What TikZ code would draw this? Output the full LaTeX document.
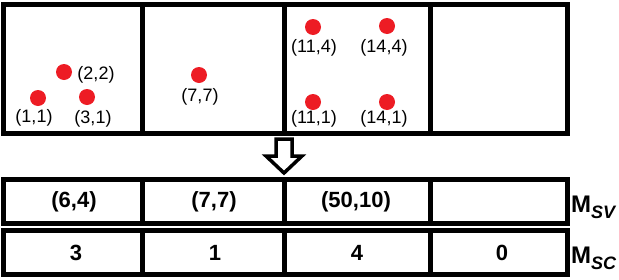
\documentclass[tikz,border=0pt]{standalone}
\usepackage{fontspec}
\setmainfont{Liberation Sans}
\definecolor{dotred}{HTML}{ED1C24}
\begin{document}
\begin{tikzpicture}[x=1pt,y=-1pt,
  frame/.style={line width=5pt,draw=black},
  pt/.style={circle,fill=dotred,minimum size=16pt,inner sep=0pt},
  lbl/.style={font=\fontsize{18}{18}\selectfont,inner sep=0pt},
  val/.style={font=\fontsize{22}{22}\selectfont\bfseries,inner sep=0pt},
  mlbl/.style={font=\fontsize{24}{24}\selectfont\bfseries,inner sep=0pt,anchor=base west}]
\useasboundingbox (0,0) rectangle (619,279);
% top box
\draw[frame] (3,4) rectangle (567,133);
\draw[frame] (142,4) -- (142,133);
\draw[frame] (284,4) -- (284,133);
\draw[frame] (430,4) -- (430,133);
% points
\node[pt] (p11) at (38,98) {};
\node[pt] (p22) at (64,72) {};
\node[pt] (p31) at (87,97) {};
\node[pt] (p77) at (199,75) {};
\node[pt] (p114) at (313,27) {};
\node[pt] (p144) at (387,26) {};
\node[pt] (p111) at (313,102) {};
\node[pt] (p141) at (387,102) {};
\node[lbl] (l11) at (34,118) {(1,1)};
\node[lbl] (l22) at (96,75) {(2,2)};
\node[lbl] (l31) at (93,119) {(3,1)};
\node[lbl] (l77) at (200,97) {(7,7)};
\node[lbl] (l114) at (314,48) {(11,4)};
\node[lbl] (l144) at (384,48) {(14,4)};
\node[lbl] (l111) at (314,119) {(11,1)};
\node[lbl] (l141) at (384,119) {(14,1)};
% arrow
\draw[line width=3.5pt,line join=miter] (276,139) -- (292,139) -- (292,156) -- (302,156) -- (284,173) -- (266,156) -- (276,156) -- cycle;
% rows
\draw[frame] (3,179) rectangle (567,223);
\draw[frame] (3,230) rectangle (567,274);
\foreach \x in {142,284,430}{
  \draw[frame] (\x,179) -- (\x,223);
  \draw[frame] (\x,230) -- (\x,274);
}
\node[val] (v1) at (74,202) {(6,4)};
\node[val] (v2) at (214,202) {(7,7)};
\node[val] (v3) at (356,202) {(50,10)};
\node[val] (c1) at (76,253) {3};
\node[val] (c2) at (215,253) {1};
\node[val] (c3) at (357,253) {4};
\node[val] (c4) at (502,253) {0};
\node[mlbl] (msv) at (571,212) {M\raisebox{-6pt}{\fontsize{18}{18}\selectfont\itshape SV}};
\node[mlbl] (msc) at (571,263) {M\raisebox{-6pt}{\fontsize{18}{18}\selectfont\itshape SC}};
\end{tikzpicture}
\end{document}
